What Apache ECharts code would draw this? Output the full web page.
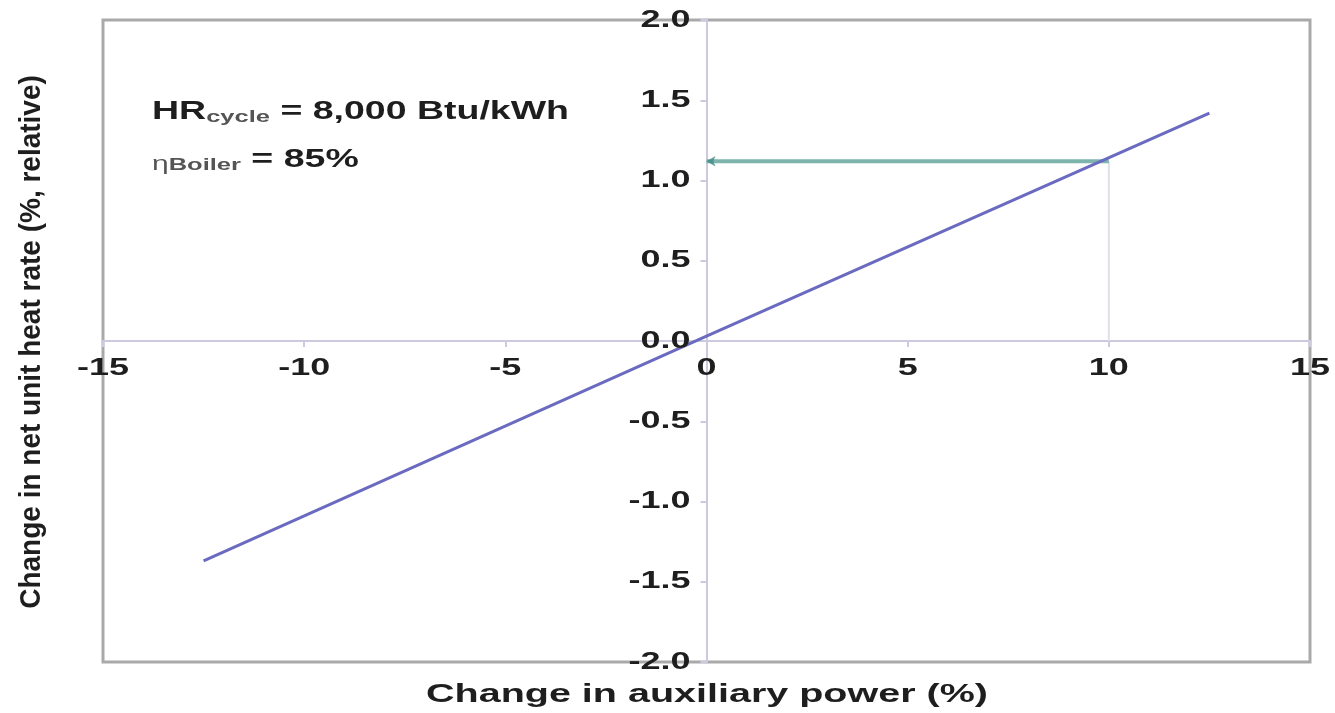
<!DOCTYPE html>
<html>
<head>
<meta charset="utf-8">
<script src="https://cdn.jsdelivr.net/npm/echarts@6/dist/echarts.min.js"></script>
<style>
html, body { margin: 0; padding: 0; background: #fff; }
#chart { width: 1335px; height: 713px; }
</style>
</head>
<body>
<div id="chart"></div>
<script>
// values
const auxChange = [-12.5, 0, 12.5]
const heatRateChange = [-1.37, 0.03, 1.42]
const arrowAux = 10
const arrowHeatRate = 1.12
const xTicks = [-15, -10, -5, 0, 5, 10, 15]
const yTicks = [2.0, 1.5, 1.0, 0.5, 0.0, -0.5, -1.0, -1.5, -2.0]
const xTitle = 'Change in auxiliary power (%)'
const yTitle = 'Change in net unit heat rate (%, relative)'

const font = '"Liberation Sans", Arial, sans-serif'
const ink = '#1e1e1e'
const axisColor = '#cbcae0'

const chart = echarts.init(document.getElementById('chart'))

chart.setOption({
    animation: false,
    grid: {
        left: 103,
        right: 25,
        top: 20,
        bottom: 51,
        show: true,
        borderColor: '#a9a9a9',
        borderWidth: 3
    },
    xAxis: {
        type: 'value',
        min: -15,
        max: 15,
        interval: 5,
        axisLine: { onZero: true, lineStyle: { color: axisColor, width: 2 } },
        axisTick: { show: true, length: 6, lineStyle: { color: axisColor, width: 2 } },
        axisLabel: { show: false },
        splitLine: { show: false }
    },
    yAxis: {
        type: 'value',
        min: -2,
        max: 2,
        interval: 0.5,
        axisLine: { onZero: true, lineStyle: { color: axisColor, width: 2 } },
        axisTick: { show: true, length: 6, lineStyle: { color: axisColor, width: 2 } },
        axisLabel: { show: false },
        splitLine: { show: false }
    },
    series: [
        {
            // drop line from the arrow down to the x axis
            type: 'line',
            data: [[arrowAux, arrowHeatRate], [arrowAux, 0]],
            symbol: 'none',
            lineStyle: { color: '#e0e0e8', width: 2 },
            z: 1
        },
        {
            type: 'line',
            data: [[arrowAux, arrowHeatRate], [0, arrowHeatRate]],
            symbol: 'none',
            lineStyle: { color: '#7db5ae', width: 4 },
            z: 2
        },
        {
            type: 'scatter',
            data: [[0, arrowHeatRate]],
            symbol: 'arrow',
            symbolRotate: 90,
            symbolSize: [8, 9],
            itemStyle: { color: '#3f8b82' },
            z: 4
        },
        {
            type: 'line',
            data: auxChange.map((x, i) => [x, heatRateChange[i]]),
            symbol: 'none',
            lineStyle: { color: '#6a6ac0', width: 3 },
            z: 3
        }
    ]
})

// the picture is stretched sideways, so its text is too: draw text with scaleX
const label = (text, x, y, align, size, sx) => ({
    type: 'text',
    x: x,
    y: y,
    scaleX: sx,
    z: 10,
    style: {
        text: text,
        font: 'bold ' + size + 'px ' + font,
        fill: ink,
        align: align,
        verticalAlign: 'middle'
    }
})

const graphics = []
xTicks.forEach(v => {
    const p = chart.convertToPixel({ gridIndex: 0 }, [v, 0])
    graphics.push(label(String(v), p[0], p[1] + 27, 'center', 24, 1.5))
})
yTicks.forEach(v => {
    const p = chart.convertToPixel({ gridIndex: 0 }, [0, v])
    graphics.push(label(v.toFixed(1), p[0] - 16, p[1], 'right', 24, 1.5))
})

graphics.push(label(xTitle, 707, 695, 'center', 25, 1.58))
graphics.push({
    type: 'text',
    x: 32,
    y: 342,
    rotation: Math.PI / 2,
    scaleY: 1.05,
    z: 10,
    style: {
        text: yTitle,
        font: 'bold 28px ' + font,
        fill: ink,
        align: 'center',
        verticalAlign: 'middle'
    }
})

// HR_cycle and eta_Boiler note
const noteRich = {
    a: { font: 'bold 25px ' + font, fill: ink, lineHeight: 28, verticalAlign: 'middle' },
    s: { font: 'bold 17px ' + font, fill: '#555', lineHeight: 12, verticalAlign: 'bottom' },
    e: { font: '20px ' + font, fill: '#555', lineHeight: 22, verticalAlign: 'bottom' }
}
graphics.push({
    type: 'text',
    x: 152,
    y: 112,
    scaleX: 1.5,
    z: 10,
    style: {
        text: '{a|HR}{s|cycle}{a| = 8,000 Btu/kWh}',
        verticalAlign: 'middle',
        rich: noteRich
    }
})
graphics.push({
    type: 'text',
    x: 152,
    y: 160,
    scaleX: 1.5,
    z: 10,
    style: {
        text: '{e|η}{s|Boiler}{a| = 85%}',
        verticalAlign: 'middle',
        rich: noteRich
    }
})

chart.setOption({ graphic: graphics })
</script>
</body>
</html>
